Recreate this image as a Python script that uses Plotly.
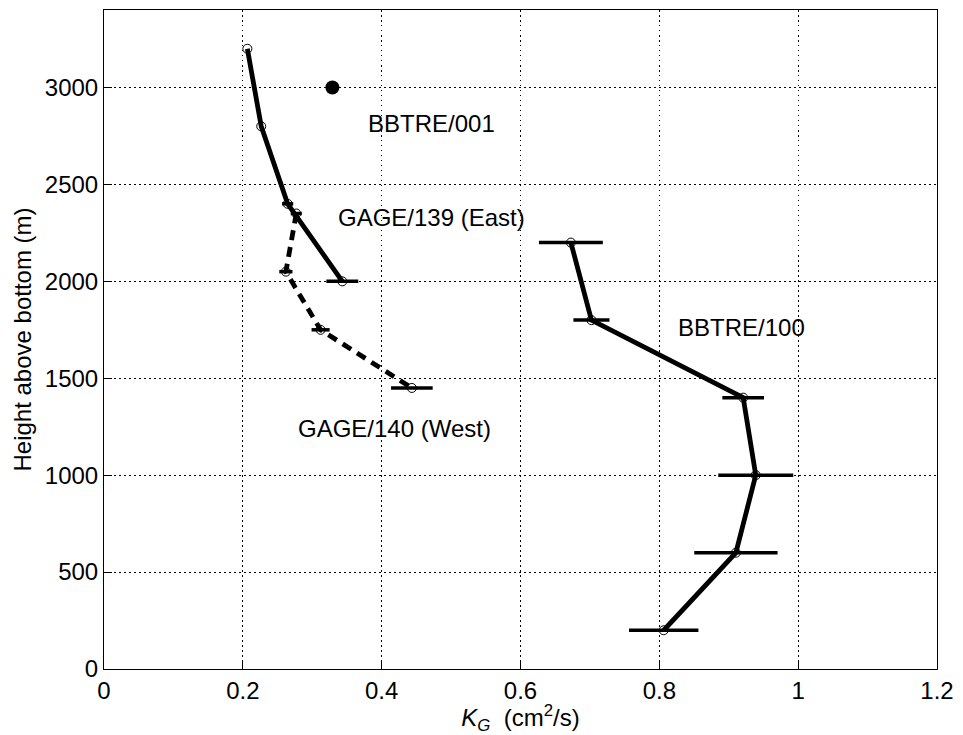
import plotly.graph_objects as go

# GAGE/139 (East) - solid line
east_k = [0.2065, 0.2265, 0.2646, 0.3433]
east_z = [3200, 2800, 2400, 2000]
east_err = [0.0, 0.0, 0.008, 0.023]

# GAGE/140 (West) - dashed line
west_k = [0.277, 0.262, 0.312, 0.4435]
west_z = [2350, 2050, 1750, 1450]
west_err = [0.008, 0.0095, 0.013, 0.030]

# BBTRE/100
b100_k = [0.6726, 0.7022, 0.9208, 0.9389, 0.9103, 0.8063]
b100_z = [2200, 1800, 1400, 1000, 600, 200]
b100_err = [0.046, 0.026, 0.030, 0.054, 0.060, 0.050]

# BBTRE/001 single point
b001_k = [0.329]
b001_z = [3000]

labels = ["BBTRE/001", "GAGE/139 (East)", "GAGE/140 (West)", "BBTRE/100"]
label_k = [0.377, 0.334, 0.277, 0.824]
label_z = [2815, 2331, 1243, 1764]

FONT = "Liberation Sans, Arial, sans-serif"
FS = 24

fig = go.Figure()

def add_series(k, z, err, dash):
    fig.add_trace(go.Scatter(
        x=k, y=z, mode="lines",
        line=dict(color="black", width=4.8, dash=dash),
        error_x=dict(type="data", array=err, visible=True, color="black",
                     thickness=3.5, width=0),
        showlegend=False, hoverinfo="skip"))
    fig.add_trace(go.Scatter(
        x=k, y=z, mode="markers",
        marker=dict(symbol="circle-open", size=9, color="black",
                    line=dict(width=1, color="black")),
        showlegend=False, hoverinfo="skip"))

add_series(east_k, east_z, east_err, "solid")
add_series(west_k, west_z, west_err, "10px,7px")
add_series(b100_k, b100_z, b100_err, "solid")

fig.add_trace(go.Scatter(
    x=b001_k, y=b001_z, mode="markers",
    marker=dict(symbol="circle", size=14, color="black"),
    showlegend=False, hoverinfo="skip"))

for t, kx, kz in zip(labels, label_k, label_z):
    fig.add_annotation(x=kx, y=kz, text=t, showarrow=False,
                       xanchor="left", yanchor="middle",
                       font=dict(family=FONT, size=FS, color="black"))

axis_common = dict(
    showline=True, linecolor="black", linewidth=1, mirror=True,
    ticks="inside", ticklen=8, tickcolor="black", tickwidth=1,
    showgrid=True, gridcolor="black", gridwidth=1, griddash="1.5px,3.5px",
    zeroline=False,
    tickfont=dict(family=FONT, size=FS, color="black"),
)

fig.update_xaxes(range=[0, 1.2], tickvals=[0, 0.2, 0.4, 0.6, 0.8, 1.0, 1.2],
                 ticktext=["0", "0.2", "0.4", "0.6", "0.8", "1", "1.2"],
                 title=dict(text="<i>K</i><sub><i>G</i></sub>&nbsp;&nbsp;(cm<sup>2</sup>/s)",
                            font=dict(family=FONT, size=FS, color="black"),
                            standoff=0),
                 **axis_common)
fig.update_yaxes(range=[0, 3400], tickvals=[0, 500, 1000, 1500, 2000, 2500, 3000],
                 title=dict(text="Height above bottom (m)",
                            font=dict(family=FONT, size=FS, color="black"),
                            standoff=6),
                 **axis_common)

fig.update_layout(
    width=963, height=735,
    margin=dict(l=103.5, r=21.5, t=9, b=66),
    paper_bgcolor="white", plot_bgcolor="white",
    font=dict(family=FONT, color="black"),
)

fig.write_html("out.html")
